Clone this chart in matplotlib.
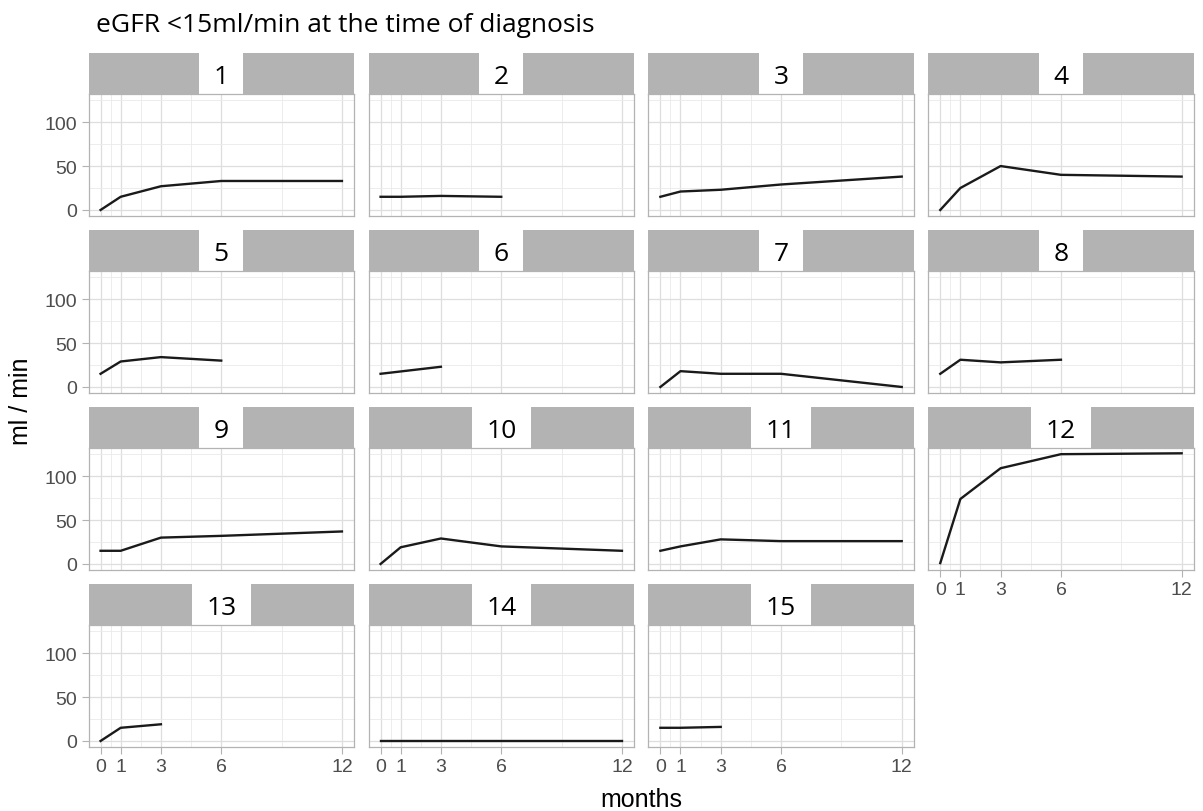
import matplotlib
matplotlib.use("Agg")
import matplotlib.pyplot as plt
from matplotlib.ticker import FixedLocator

plt.rcParams['font.family'] = ['Liberation Sans', 'DejaVu Sans']

# Data (eGFR in ml/min per patient)
patients = list(range(1, 16))
months = [
    [0, 1, 3, 6, 12],   # 1
    [0, 1, 3, 6],       # 2
    [0, 1, 3, 6, 12],   # 3
    [0, 1, 3, 6, 12],   # 4
    [0, 1, 3, 6],       # 5
    [0, 3],             # 6
    [0, 1, 3, 6, 12],   # 7
    [0, 1, 3, 6],       # 8
    [0, 1, 3, 6, 12],   # 9
    [0, 1, 3, 6, 12],   # 10
    [0, 1, 3, 6, 12],   # 11
    [0, 1, 3, 6, 12],   # 12
    [0, 1, 3],          # 13
    [0, 1, 3, 6, 12],   # 14
    [0, 1, 3],          # 15
]
egfr = [
    [0, 15, 27, 33, 33],
    [15, 15, 16, 15],
    [15, 21, 23, 29, 38],
    [0, 25, 50, 40, 38],
    [15, 29, 34, 30],
    [15, 23],
    [0, 18, 15, 15, 0],
    [15, 31, 28, 31],
    [15, 15, 30, 32, 37],
    [0, 19, 29, 20, 15],
    [15, 20, 28, 26, 26],
    [1, 74, 109, 125, 126],
    [0, 15, 19],
    [0, 0, 0, 0, 0],
    [15, 15, 16],
]
x_ticks = [0, 1, 3, 6, 12]
x_minor = [0.5, 2, 4.5, 9]
y_ticks = [0, 50, 100]
y_minor = [25, 75, 125]

title = "eGFR <15ml/min at the time of diagnosis"

W, H = 1203, 812
fig = plt.figure(figsize=(W / 100, H / 100), dpi=100)


def px_axes(left, top, width, height):
    return fig.add_axes([left / W, 1 - (top + height) / H, width / W, height / H])


COL_LEFT = [88.5, 368.5, 648.3, 928.2]
ROW_TOP = [54, 231, 408, 585]
PANEL_W = 265.5
STRIP_H = 40.5
PANEL_H = 122

GREY70 = '#B3B3B3'

for i, pid in enumerate(patients):
    r, c = divmod(i, 4)

    # facet strip
    strip = px_axes(COL_LEFT[c], ROW_TOP[r], PANEL_W, STRIP_H)
    strip.set_facecolor(GREY70)
    strip.set_xticks([])
    strip.set_yticks([])
    for sp in strip.spines.values():
        sp.set_visible(False)
    strip.text(0.5, 0.26, str(pid), ha='center', va='baseline', fontsize=19,
               family=['Open Sans', 'DejaVu Sans'], color='black',
               transform=strip.transAxes, clip_on=True,
               bbox=dict(boxstyle='square,pad=0.55', fc='white', ec='none'))

    # panel
    ax = px_axes(COL_LEFT[c], ROW_TOP[r] + STRIP_H, PANEL_W, PANEL_H)
    ax.plot(months[i], egfr[i], color='#1A1A1A', lw=1.7, zorder=3)
    ax.set_xlim(-0.6, 12.6)
    ax.set_ylim(-6.3, 132.6)
    ax.xaxis.set_major_locator(FixedLocator(x_ticks))
    ax.xaxis.set_minor_locator(FixedLocator(x_minor))
    ax.yaxis.set_major_locator(FixedLocator(y_ticks))
    ax.yaxis.set_minor_locator(FixedLocator(y_minor))
    ax.grid(which='major', color='#DEDEDE', lw=0.9)
    ax.grid(which='minor', color='#EAEAEA', lw=0.6)
    ax.set_axisbelow(True)
    for sp in ax.spines.values():
        sp.set_color(GREY70)
        sp.set_linewidth(0.9)

    bottom = r == 3 or (r == 2 and c == 3)
    left = c == 0
    ax.tick_params(which='minor', length=0)
    ax.tick_params(axis='x', which='major', length=5 if bottom else 0,
                   width=0.8, color=GREY70, labelsize=14, labelcolor='#4D4D4D',
                   pad=3, labelbottom=bottom)
    ax.tick_params(axis='y', which='major', length=5 if left else 0,
                   width=0.8, color=GREY70, labelsize=14, labelcolor='#4D4D4D',
                   pad=3, labelleft=left)

fig.text(96 / W, 1 - 31.7 / H, title, ha='left', va='baseline', fontsize=19,
         family=['Open Sans', 'DejaVu Sans'])
fig.text(641 / W, 1 - 806.7 / H, 'months', ha='center', va='baseline', fontsize=18)
fig.text(21.5 / W, 1 - 401 / H, 'ml / min', ha='center', va='center',
         rotation=90, fontsize=18)

fig.savefig('out.png', dpi=100)
